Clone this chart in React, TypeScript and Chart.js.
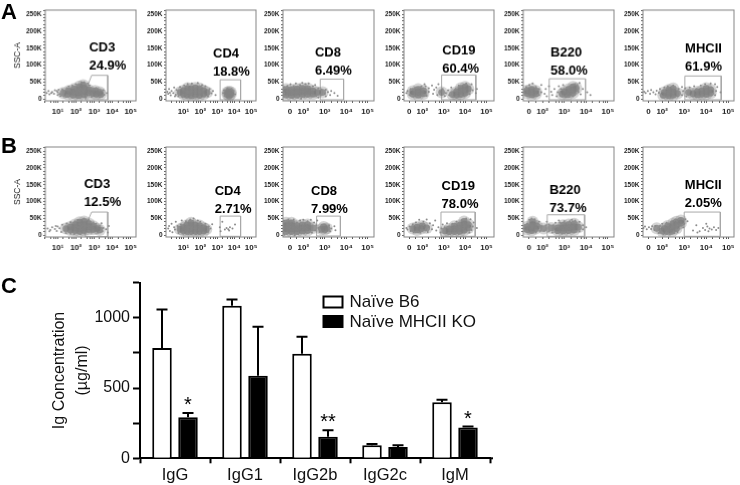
import React, { useEffect, useRef } from "react";
import { Chart, registerables } from "chart.js";

Chart.register(...registerables);

const FONT = '"Liberation Sans", Arial, sans-serif';

// ---------- Panel C data ----------
const igClasses = ["IgG", "IgG1", "IgG2b", "IgG2c", "IgM"];
const b6Means = [785, 1085, 743, 92, 398];
const b6Upper = [1059, 1130, 865, 101, 417];
const koMeans = [292, 587, 153, 80, 219];
const koUpper = [323, 936, 200, 92, 226];
const koStars = ["*", "", "**", "", "*"];
const igTicks = [0, 250, 500, 750, 1000, 1250];

// ---------- Flow panels: x in display decades, y in SSC-A thousands ----------
const ssaTicks = [0, 10, 20, 30, 40, 50, 60, 70, 80, 90, 100, 110, 120, 130, 140, 150, 160, 170, 180, 190, 200, 210, 220, 230, 240, 250, 260];
const logTickValues = [1, 2, 3, 4, 5];
const logTickMinor = [0.3, 0.6, 0.78, 0.9, 1.3, 1.6, 1.78, 1.9, 2.3, 2.6, 2.78, 2.9, 3.3, 3.6, 3.78, 3.9, 4.3, 4.6, 4.78, 4.9];
const biexTickValues = [1.38, 2, 3, 4, 5];
const biexTickLabels = ["0", "10²", "10³", "10⁴", "10⁵"];
const biexTickMinor = [1.7, 2.3, 2.6, 2.78, 2.9, 3.3, 3.6, 3.78, 3.9, 4.3, 4.6, 4.78, 4.9];
const logTickLabels = ["10¹", "10²", "10³", "10⁴", "10⁵"];

const a1Core = [[1.3,18],[1.55,14],[1.6,24],[1.85,12],[1.85,21],[1.9,30],[2.15,10],[2.15,19],[2.2,28],[2.2,37],[2.45,13],[2.45,23],[2.45,32],[2.4,41],[2.7,19],[2.7,27],[2.95,17],[3.05,24],[3.1,15],[3.3,20],[3.35,14]];
const a1Halo = [[0.4,18],[0.5,24],[0.55,14],[0.7,21],[0.8,16],[0.85,26],[1,12],[1,20],[1.05,28],[1.15,9],[1.25,29],[1.45,7],[1.5,33],[1.6,37],[1.8,5],[1.8,40],[2,44],[2.1,4],[2.3,49],[2.45,50],[2.55,5],[2.75,40],[2.85,33],[2.85,7],[3.1,33],[3.3,6],[3.5,26],[3.55,13],[3.7,18],[0.65,18],[0.95,24],[1.1,15],[1.35,8],[2.65,46],[3.2,30],[3.45,8]];
const a2Core = [[0.8,20],[1,15],[1,25],[1.2,12],[1.2,22],[1.25,32],[1.45,10],[1.45,20],[1.45,30],[1.7,13],[1.7,23],[1.7,33],[1.95,11],[1.95,21],[1.95,31],[2.2,15],[2.2,25],[2.4,20],[3.6,14],[3.8,14],[3.7,22],[3.6,20],[3.8,20],[3.7,10]];
const a2Halo = [[0.05,22],[0.1,16],[0.15,30],[0.25,11],[0.3,24],[0.4,18],[0.45,34],[0.55,13],[0.6,27],[0.7,9],[0.8,36],[0.95,6],[1.05,40],[1.25,45],[1.5,46],[1.6,4],[1.85,48],[2,5],[2.1,42],[2.3,38],[2.45,8],[2.55,30],[2.65,17],[2.75,24],[2.9,12],[3.35,18],[3.4,26],[3.45,10],[3.95,24],[4.05,14],[3.6,32],[3.85,30],[0.2,19],[0.5,8]];
const a3Core = [[1.2,12],[1.2,21],[1.2,29],[1.45,11],[1.45,20],[1.45,28],[1.7,12],[1.7,21],[1.7,30],[1.95,14],[1.95,23],[1.95,32],[2.2,14],[2.2,23],[2.2,31],[2.45,15],[2.45,24],[2.65,20],[2.9,20]];
const a3Halo = [[1.08,8],[1.1,17],[1.1,36],[1.25,39],[1.35,6],[1.4,44],[1.55,38],[1.65,46],[1.75,5],[1.85,42],[1.95,48],[2.05,7],[2.1,44],[2.25,46],[2.35,8],[2.45,38],[2.55,42],[2.6,10],[2.7,32],[2.8,12],[2.85,28],[3,16],[3.05,28],[3.15,21],[3.25,12],[3.3,24],[3.45,18],[3.6,10],[3.05,8],[2.7,5],[1.5,3],[1.9,2]];
const a4Core = [[1.55,15],[1.55,23],[1.8,12],[1.8,21],[1.8,29],[2.05,16],[2.05,25],[2.9,20],[3.4,14],[3.6,12],[3.6,21],[3.8,14],[3.8,24],[3.8,32],[4,18],[4,27],[4,36],[4.15,30]];
const a4Halo = [[1.25,18],[1.3,24],[1.4,12],[1.45,30],[1.6,8],[1.65,33],[1.9,6],[1.95,37],[2.15,38],[2.2,10],[2.3,22],[2.3,32],[2.45,40],[2.5,16],[2.55,28],[2.65,34],[2.7,12],[2.75,44],[2.85,22],[2.95,30],[3.05,9],[3.1,18],[3.2,26],[3.25,12],[3.35,34],[3.45,6],[3.55,30],[3.7,40],[3.95,8],[4.05,46],[4.2,15],[4.3,44],[4.35,26],[4.5,18],[4.55,30],[2.1,44]];
const a5Core = [[1.3,17],[1.3,25],[1.5,13],[1.5,21],[1.5,29],[1.7,16],[1.7,24],[2.9,15],[3,22],[3.15,13],[3.2,21],[3.2,29],[3.4,18],[3.4,27],[3.4,36],[3.55,32]];
const a5Halo = [[1.15,20],[1.18,28],[1.2,12],[1.25,36],[1.35,8],[1.4,42],[1.55,46],[1.6,6],[1.7,36],[1.85,12],[1.85,30],[1.95,20],[1.95,42],[2.1,16],[2.15,30],[2.2,8],[2.3,38],[2.4,22],[2.45,12],[2.55,30],[2.65,8],[2.7,20],[2.75,38],[2.85,30],[2.95,42],[3.05,6],[3.25,38],[3.4,8],[3.5,44],[3.65,22],[3.7,48],[3.75,14],[3.85,30],[4.05,20],[4.2,12],[3.6,42]];
const a6Core = [[2.05,11],[2.1,20],[2.3,10],[2.3,18],[2.3,27],[2.5,12],[2.5,21],[2.5,31],[2.7,17],[3.2,20],[3.4,16],[3.6,13],[3.6,22],[3.8,15],[3.8,24],[4,14],[4,23],[4,32],[4.2,18],[4.2,28]];
const a6Halo = [[1.18,22],[1.25,18],[1.35,24],[1.45,16],[1.5,27],[1.6,20],[1.7,14],[1.75,25],[1.85,19],[1.9,30],[2,6],[2.1,34],[2.25,38],[2.45,5],[2.5,40],[2.7,8],[2.75,30],[2.9,12],[2.95,24],[3.05,32],[3.1,8],[3.25,34],[3.4,8],[3.45,38],[3.7,6],[3.75,40],[3.95,44],[4.1,8],[4.2,46],[4.4,12],[4.45,24],[4.5,36],[4.65,20],[4.4,44],[3.55,30],[2.9,36]];
const b1Core = [[1.45,20],[1.7,16],[1.7,25],[1.95,14],[1.95,23],[1.95,32],[2.2,12],[2.2,21],[2.2,30],[2.2,39],[2.45,14],[2.45,23],[2.45,32],[2.45,41],[2.7,17],[2.7,26],[2.7,35],[2.95,18],[2.95,27],[3.15,20],[3.3,16]];
const b1Halo = [[0.45,20],[0.6,16],[0.7,24],[0.85,19],[0.95,13],[1,26],[1.1,21],[1.2,10],[1.25,31],[1.45,7],[1.5,35],[1.7,5],[1.7,39],[1.9,3],[1.95,42],[2.1,46],[2.25,3],[2.45,50],[2.5,5],[2.7,46],[2.85,8],[2.95,38],[3.1,34],[3.2,8],[3.3,28],[3.45,12],[3.5,22],[3.65,18],[3.75,8],[3.8,28],[0.55,12],[0.9,28],[1.35,14],[3.4,36]];
const b2Core = [[0.8,18],[1,14],[1,23],[1.2,12],[1.2,21],[1.2,30],[1.45,11],[1.45,20],[1.45,29],[1.45,37],[1.7,12],[1.7,21],[1.7,30],[1.95,11],[1.95,20],[1.95,29],[2.2,13],[2.2,22],[2.35,18]];
const b2Halo = [[0.1,20],[0.15,28],[0.2,13],[0.3,34],[0.35,9],[0.45,24],[0.5,17],[0.55,40],[0.65,28],[0.7,7],[0.85,32],[0.9,44],[1,5],[1.15,42],[1.3,4],[1.4,47],[1.6,50],[1.75,4],[1.85,44],[2,40],[2.15,6],[2.3,34],[2.45,10],[2.5,26],[2.6,20],[2.7,33],[3.15,24],[3.3,40],[3.45,17],[3.55,22],[3.65,18],[3.75,24],[3.7,14],[3.9,20],[4.05,32],[3.2,12]];
const b3Core = [[1.2,11],[1.2,20],[1.2,29],[1.2,37],[1.45,11],[1.45,20],[1.45,29],[1.45,37],[1.7,11],[1.7,20],[1.7,29],[1.95,13],[1.95,22],[1.95,31],[2.2,14],[2.2,23],[2.2,32],[2.45,22],[2.85,18],[3,18],[3.1,20],[2.95,25]];
const b3Halo = [[1.08,6],[1.1,43],[1.3,46],[1.4,4],[1.55,47],[1.7,38],[1.75,4],[1.85,44],[2,46],[2.05,6],[2.2,42],[2.35,46],[2.4,8],[2.5,38],[2.55,14],[2.6,30],[2.65,44],[2.7,22],[2.75,10],[2.85,30],[3.05,10],[3.2,30],[3.25,12],[3.3,20],[3.45,27],[3.5,15],[1.12,2],[1.6,1]];
const b4Core = [[1.55,20],[1.75,16],[1.75,24],[1.95,20],[2,28],[2.2,22],[3.05,13],[3.25,11],[3.25,19],[3.5,11],[3.5,19],[3.5,27],[3.75,12],[3.75,21],[3.75,30],[3.95,15],[3.95,24],[3.95,33],[3.95,41],[4.15,22],[4.15,32]];
const b4Halo = [[1.25,22],[1.3,17],[1.4,26],[1.45,13],[1.55,32],[1.6,9],[1.7,38],[1.85,46],[1.9,8],[2.05,40],[2.2,47],[2.25,10],[2.35,36],[2.45,18],[2.5,30],[2.6,44],[2.65,14],[2.75,24],[2.85,8],[2.9,20],[2.95,32],[3.05,24],[3.15,36],[3.3,4],[3.4,34],[3.6,40],[3.7,4],[3.85,44],[4.05,50],[4.2,8],[4.3,16],[4.35,26],[4.4,38],[4.25,48],[4.55,22],[2.3,25]];
const b5Core = [[1.3,17],[1.3,25],[1.5,14],[1.5,22],[1.55,32],[1.55,40],[1.7,20],[1.75,28],[2.05,20],[2.4,22],[2.7,14],[2.7,22],[2.95,13],[2.95,22],[2.95,30],[3.2,14],[3.2,23],[3.2,32],[3.45,16],[3.45,25],[3.45,34],[3.65,24]];
const b5Halo = [[1.14,18],[1.17,25],[1.2,13],[1.3,34],[1.35,8],[1.4,46],[1.5,50],[1.65,48],[1.7,9],[1.85,40],[1.9,13],[1.95,28],[2.1,14],[2.15,30],[2.3,12],[2.3,32],[2.45,8],[2.5,30],[2.6,37],[2.65,6],[2.8,38],[2.9,5],[3,42],[3.15,6],[3.25,42],[3.45,8],[3.5,44],[3.7,12],[3.7,40],[3.85,18],[3.85,30],[4,24],[3.35,46],[2.2,40],[1.2,30],[2.75,44]];
const b6Core = [[1.75,21],[2,13],[2.1,20],[2.2,11],[2.25,28],[2.35,18],[2.45,12],[2.45,25],[2.5,35],[2.65,20],[2.65,30],[2.65,40],[2.85,36],[2.85,44]];
const b6Halo = [[1.15,22],[1.22,26],[1.3,18],[1.4,24],[1.5,19],[1.55,27],[1.65,16],[1.7,28],[1.85,7],[1.9,28],[2,34],[2.05,4],[2.2,37],[2.35,4],[2.55,6],[2.55,44],[2.7,10],[2.75,48],[2.95,24],[3,34],[3.05,48],[3.15,42],[3.4,14],[3.55,30],[3.7,12],[3.85,22],[3.95,16],[4.05,26],[4.1,12],[4.15,20],[4.25,17],[4.35,24],[4.45,16],[3.6,8],[4,34],[4.55,22]];

const rectGateA3 = [[2.79,-2],[2.79,59],[3.88,59],[3.88,-2],[2.79,-2]];
const rectGateB3 = [[2.62,-2],[2.62,57],[3.73,57],[3.73,-2],[2.62,-2]];
const polyGateA1 = [[2.51,-2],[2.51,21],[2.86,70],[3.74,70],[3.74,-2],[2.51,-2]];
const polyGateB1 = [[2.51,-4],[2.51,25],[2.86,69],[3.74,69],[3.74,-4],[2.51,-4]];
const rectGateA2 = [[3.17,-2],[3.17,57],[4.38,57],[4.38,-2],[3.17,-2]];
const rectGateB2 = [[3.17,-3],[3.17,57],[4.38,57],[4.38,-3],[3.17,-3]];
const rectGateA4 = [[2.9,-2],[2.9,71],[4.5,71],[4.5,-2],[2.9,-2]];
const rectGateB4 = [[2.87,-3],[2.87,69],[4.47,69],[4.47,-3],[2.87,-3]];
const rectGateA5 = [[2.31,-2],[2.31,60],[3.97,60],[3.97,-2],[2.31,-2]];
const rectGateB5 = [[2.22,-3],[2.22,61],[3.93,61],[3.93,-3],[2.22,-3]];
const rectGateA6 = [[3.03,-2],[3.03,68],[4.68,68],[4.68,-2],[3.03,-2]];
const rectGateB6 = [[3.0,-3],[3.0,69],[4.64,69],[4.64,-3],[3.0,-3]];

const panels = [
  { id: "a1", core: a1Core, halo: a1Halo, gate: polyGateA1, lines: ["CD3", "24.9%"], at: [2.72, 139], box: [45, 139.5, 7, 100.7], xr: [0.32, 5.29], log: true, title: true },
  { id: "a2", core: a2Core, halo: a2Halo, gate: rectGateA2, lines: ["CD4", "18.8%"], at: [2.75, 124], box: [165.7, 260, 7, 100.7], xr: [-0.03, 5.29], log: true },
  { id: "a3", core: a3Core, halo: a3Halo, gate: rectGateA3, lines: ["CD8", "6.49%"], at: [2.54, 125], box: [283.3, 378.3, 7, 100.7], xr: [1.05, 5.3] },
  { id: "a4", core: a4Core, halo: a4Halo, gate: rectGateA4, lines: ["CD19", "60.4%"], at: [2.93, 130], box: [403.7, 498.3, 7, 100.7], xr: [1.14, 5.35] },
  { id: "a5", core: a5Core, halo: a5Halo, gate: rectGateA5, lines: ["B220", "58.0%"], at: [2.37, 125], box: [523.3, 618, 7, 100.7], xr: [1.12, 5.28] },
  { id: "a6", core: a6Core, halo: a6Halo, gate: rectGateA6, lines: ["MHCII", "61.9%"], at: [3.04, 137], box: [642.7, 737.7, 7, 100.7], xr: [1.13, 5.26] },
  { id: "b1", core: b1Core, halo: b1Halo, gate: polyGateB1, lines: ["CD3", "12.5%"], at: [2.44, 140], box: [45, 139.5, 143.5, 237.3], xr: [0.32, 5.29], log: true, title: true },
  { id: "b2", core: b2Core, halo: b2Halo, gate: rectGateB2, lines: ["CD4", "2.71%"], at: [2.85, 121], box: [165.7, 260, 143.5, 237.3], xr: [-0.03, 5.29], log: true },
  { id: "b3", core: b3Core, halo: b3Halo, gate: rectGateB3, lines: ["CD8", "7.99%"], at: [2.36, 121], box: [283.3, 378.3, 143.5, 237.3], xr: [1.05, 5.3] },
  { id: "b4", core: b4Core, halo: b4Halo, gate: rectGateB4, lines: ["CD19", "78.0%"], at: [2.9, 134], box: [403.7, 498.3, 143.5, 237.3], xr: [1.14, 5.35] },
  { id: "b5", core: b5Core, halo: b5Halo, gate: rectGateB5, lines: ["B220", "73.7%"], at: [2.32, 122], box: [523.3, 618, 143.5, 237.3], xr: [1.12, 5.28] },
  { id: "b6", core: b6Core, halo: b6Halo, gate: rectGateB6, lines: ["MHCII", "2.05%"], at: [3.03, 137], box: [642.7, 737.7, 143.5, 237.3], xr: [1.13, 5.26] },
];

const toXY = (pairs: number[][]) => pairs.map(([x, y]) => ({ x, y }));

const frameAndText = {
  id: "frameAndText",
  afterDraw(chart: any) {
    const { ctx, chartArea: a, scales } = chart;
    const o = chart.options.plugins.frameAndText;
    ctx.save();
    ctx.strokeStyle = "#858585";
    ctx.lineWidth = 1;
    ctx.strokeRect(a.left, a.top, a.right - a.left, a.bottom - a.top);
    ctx.fillStyle = "#000";
    ctx.font = `bold 13px ${FONT}`;
    ctx.textAlign = "left";
    ctx.textBaseline = "alphabetic";
    const px = scales.x.getPixelForValue(o.at[0]);
    const py = scales.y.getPixelForValue(o.at[1]);
    o.lines.forEach((t: string, i: number) => ctx.fillText(t, px, py + i * 18));
    ctx.restore();
  },
};

function FlowPanel({ p }: { p: any }) {
  const ref = useRef<HTMLCanvasElement>(null);
  const axisW = p.title ? 32 : 29;
  const [x0, x1, y0, y1] = p.box;
  const left = x0 - axisW;
  const top = y0 - 3;
  const w = x1 - x0 + axisW + 2;
  const h = y1 - y0 + 3 + 20;
  useEffect(() => {
    const majors = p.log ? logTickValues : biexTickValues;
    const minors = p.log ? logTickMinor : biexTickMinor;
    const labels = p.log ? logTickLabels : biexTickLabels;
    const chart = new Chart(ref.current as any, {
      type: "scatter",
      data: {
        datasets: [
          { data: toXY(p.halo), pointRadius: 1, pointBorderWidth: 0, pointBackgroundColor: "#8c8c8c" },
          { data: toXY(p.core), pointRadius: 6, pointBorderWidth: 0, pointBackgroundColor: "rgba(135,135,135,0.35)" },
          { data: toXY(p.core), pointRadius: 3.4, pointBorderWidth: 0, pointBackgroundColor: "rgba(90,90,90,0.6)" },
          { data: toXY(p.gate), showLine: true, pointRadius: 0, borderColor: "#a8a8a8", borderWidth: 1, fill: false, tension: 0 },
        ],
      },
      options: {
        animation: false,
        responsive: false,
        devicePixelRatio: 1,
        layout: { padding: { top: 3, right: 2, left: 0, bottom: 0 } },
        plugins: { legend: { display: false }, tooltip: { enabled: false }, frameAndText: { lines: p.lines, at: p.at } } as any,
        scales: {
          x: {
            type: "linear",
            min: p.xr[0],
            max: p.xr[1],
            afterBuildTicks: (s: any) => {
              s.ticks = [...majors, ...minors].map((value: number) => ({ value }));
            },
            afterFit: (s: any) => {
              s.height = 20;
            },
            grid: { drawOnChartArea: false, tickLength: 2, tickColor: "#555" },
            border: { display: false },
            ticks: {
              autoSkip: false,
              maxRotation: 0,
              padding: 4,
              color: "#222",
              font: { family: FONT, size: 8, weight: "bold" },
              callback: (v: any) => {
                const i = majors.indexOf(v);
                return i >= 0 ? labels[i] : "";
              },
            },
          },
          y: {
            type: "linear",
            min: -5,
            max: 262,
            afterBuildTicks: (s: any) => {
              s.ticks = ssaTicks.map((value) => ({ value }));
            },
            afterFit: (s: any) => {
              s.width = axisW;
            },
            title: p.title
              ? { display: true, text: "SSC-A", color: "#222", padding: 0, font: { family: FONT, size: 8.5 } }
              : { display: false },
            grid: { drawOnChartArea: false, tickLength: 2, tickColor: "#666" },
            border: { display: false },
            ticks: {
              autoSkip: false,
              padding: 1.5,
              color: "#222",
              font: { family: FONT, size: 6.5, weight: "bold" },
              callback: (v: any) => (v === 0 ? "0" : v % 50 === 0 ? `${v}K` : ""),
            },
          },
        },
      } as any,
      plugins: [frameAndText as any],
    });
    return () => chart.destroy();
  }, []);
  return <canvas ref={ref} width={w} height={h} style={{ position: "absolute", left, top, width: w, height: h, filter: "blur(0.35px)" }} />;
}

const barExtras = {
  id: "barExtras",
  afterDatasetsDraw(chart: any) {
    const { ctx, chartArea: a, scales } = chart;
    ctx.save();
    ctx.strokeStyle = "#000";
    ctx.fillStyle = "#000";
    ctx.lineWidth = 2;
    // error whiskers
    chart.data.datasets.forEach((ds: any, di: number) => {
      chart.getDatasetMeta(di).data.forEach((el: any, i: number) => {
        const top = scales.y.getPixelForValue(ds.upper[i]);
        const base = scales.y.getPixelForValue(ds.data[i]);
        ctx.beginPath();
        ctx.moveTo(el.x, base);
        ctx.lineTo(el.x, top);
        ctx.moveTo(el.x - 5.5, top);
        ctx.lineTo(el.x + 5.5, top);
        ctx.stroke();
        if (ds.stars && ds.stars[i]) {
          ctx.font = `20px ${FONT}`;
          ctx.textAlign = "center";
          ctx.textBaseline = "alphabetic";
          ctx.fillText(ds.stars[i], el.x, top - 2);
        }
      });
    });
    // axis run-out to the right
    ctx.beginPath();
    ctx.moveTo(a.right, a.bottom);
    ctx.lineTo(a.right + 3, a.bottom);
    ctx.stroke();
    // legend
    const boxX = 323.5;
    const rowY = [32, 51.5];
    ctx.font = `17px ${FONT}`;
    ctx.textAlign = "left";
    ctx.textBaseline = "middle";
    chart.data.datasets.forEach((ds: any, i: number) => {
      ctx.fillStyle = ds.backgroundColor;
      ctx.fillRect(boxX, rowY[i] - 5.5, 19, 11);
      ctx.strokeRect(boxX, rowY[i] - 5.5, 19, 11);
      ctx.fillStyle = "#111";
      ctx.fillText(ds.label, 349.5, rowY[i] + 0.5);
    });
    ctx.restore();
  },
};

function IgBars() {
  const ref = useRef<HTMLCanvasElement>(null);
  useEffect(() => {
    const chart = new Chart(ref.current as any, {
      type: "bar",
      data: {
        labels: igClasses,
        datasets: [
          { label: "Naïve B6", data: b6Means, upper: b6Upper, backgroundColor: "#ffffff", borderColor: "#000", borderWidth: 2, borderSkipped: "bottom" },
          { label: "Naïve MHCII KO", data: koMeans, upper: koUpper, stars: koStars, backgroundColor: "#000000", borderColor: "#000", borderWidth: 2, borderSkipped: "bottom" },
        ] as any,
      },
      options: {
        animation: false,
        responsive: false,
        devicePixelRatio: 1,
        layout: { padding: { top: 11.5, right: 10, left: 48, bottom: 0 } },
        plugins: { legend: { display: false }, tooltip: { enabled: false } },
        datasets: { bar: { categoryPercentage: 0.743, barPercentage: 0.75 } },
        scales: {
          x: {
            afterFit: (s: any) => {
              s.height = 215 - 188.3;
            },
            grid: { drawOnChartArea: false, tickLength: 5, tickWidth: 2, tickColor: "#000" },
            border: { color: "#000", width: 2 },
            ticks: { color: "#111", padding: 2, font: { family: FONT, size: 16.5 }, autoSkip: false, maxRotation: 0 },
          },
          y: {
            min: 0,
            max: 1250,
            afterBuildTicks: (s: any) => {
              s.ticks = igTicks.map((value) => ({ value }));
            },
            afterFit: (s: any) => {
              s.width = 140 - 48;
            },
            title: {
              display: true,
              text: ["Ig Concentration", "(µg/ml)"],
              color: "#111",
              padding: 0,
              font: { family: FONT, size: 16, lineHeight: 1.45 },
            },
            grid: { drawOnChartArea: false, tickLength: 7, tickWidth: 2, tickColor: "#000" },
            border: { color: "#000", width: 2 },
            ticks: {
              color: "#111",
              padding: 3,
              autoSkip: false,
              font: { family: FONT, size: 16 },
              callback: (v: any) => (v % 500 === 0 ? String(v) : ""),
            },
          },
        },
      } as any,
      plugins: [barExtras as any],
    });
    return () => chart.destroy();
  }, []);
  return <canvas ref={ref} width={500} height={215} style={{ position: "absolute", left: 0, top: 270, width: 500, height: 215 }} />;
}

const letterStyle: React.CSSProperties = {
  position: "absolute",
  fontFamily: FONT,
  fontWeight: "bold",
  fontSize: 22,
  lineHeight: "22px",
  color: "#000",
};

export default function App() {
  return (
    <div style={{ position: "absolute", left: 0, top: 0, width: 740, height: 485, overflow: "hidden", background: "#fff" }}>
      {panels.map((p) => (
        <FlowPanel key={p.id} p={p} />
      ))}
      <IgBars />
      <div style={{ ...letterStyle, left: 1, top: 1 }}>A</div>
      <div style={{ ...letterStyle, left: 1, top: 135 }}>B</div>
      <div style={{ ...letterStyle, left: 1, top: 275 }}>C</div>
    </div>
  );
}
